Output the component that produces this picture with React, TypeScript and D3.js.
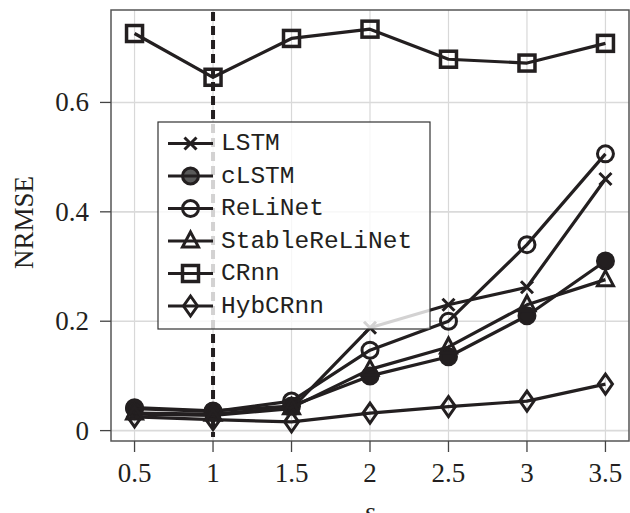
import React from 'react';
import * as d3 from 'd3';

// values
const sValues = [0.5, 1, 1.5, 2, 2.5, 3, 3.5];
const lstm = [0.03, 0.028, 0.04, 0.188, 0.23, 0.262, 0.46];
const clstm = [0.042, 0.036, 0.045, 0.1, 0.135, 0.21, 0.31];
const relinet = [0.04, 0.035, 0.054, 0.147, 0.2, 0.34, 0.506];
const stableRelinet = [0.032, 0.03, 0.042, 0.112, 0.153, 0.23, 0.276];
const crnn = [0.726, 0.646, 0.717, 0.734, 0.679, 0.672, 0.708];
const hybCrnn = [0.025, 0.02, 0.016, 0.032, 0.044, 0.054, 0.085];

const xTicks = [0.5, 1, 1.5, 2, 2.5, 3, 3.5];
const yTicks = [0, 0.2, 0.4, 0.6];
const markerLine = 1; // dashed vertical marker at s = 1

type Marker = 'cross' | 'filledCircle' | 'circle' | 'triangle' | 'square' | 'diamond';

const series: { name: string; values: number[]; marker: Marker }[] = [
  { name: 'LSTM', values: lstm, marker: 'cross' },
  { name: 'cLSTM', values: clstm, marker: 'filledCircle' },
  { name: 'ReLiNet', values: relinet, marker: 'circle' },
  { name: 'StableReLiNet', values: stableRelinet, marker: 'triangle' },
  { name: 'CRnn', values: crnn, marker: 'square' },
  { name: 'HybCRnn', values: hybCrnn, marker: 'diamond' },
];

const W = 630;
const H = 513;
const left = 111;
const right = 629;
const top = 10;
const bottom = 441;
const ink = '#231f20';

const x = d3.scaleLinear().domain([0.35, 3.65]).range([left, right]);
const y = d3.scaleLinear().domain([-0.019, 0.769]).range([bottom, top]);

const MarkerShape: React.FC<{ type: Marker; cx: number; cy: number; legend?: boolean }> = ({ type, cx, cy, legend }) => {
  const sw = 3;
  switch (type) {
    case 'cross':
      return (
        <path
          d={`M${cx - 6},${cy - 6}L${cx + 6},${cy + 6}M${cx - 6},${cy + 6}L${cx + 6},${cy - 6}`}
          stroke={ink}
          strokeWidth={sw}
          fill="none"
        />
      );
    case 'filledCircle':
      return <circle cx={cx} cy={cy} r={8} fill={legend ? '#5a5a5a' : ink} stroke={ink} strokeWidth={sw} />;
    case 'circle':
      return <circle cx={cx} cy={cy} r={8} fill="none" stroke={ink} strokeWidth={sw} />;
    case 'triangle':
      return (
        <path
          d={`M${cx},${cy - 9}L${cx + 8},${cy + 6}L${cx - 8},${cy + 6}Z`}
          fill="none"
          stroke={ink}
          strokeWidth={sw}
          strokeLinejoin="miter"
        />
      );
    case 'square':
      return <rect x={cx - 8} y={cy - 8} width={16} height={16} fill="none" stroke={ink} strokeWidth={sw + 0.5} />;
    case 'diamond':
      return (
        <path
          d={`M${cx},${cy - 10}L${cx + 7},${cy}L${cx},${cy + 10}L${cx - 7},${cy}Z`}
          fill="none"
          stroke={ink}
          strokeWidth={sw}
        />
      );
  }
};

const App: React.FC = () => {
  const line = d3
    .line<number>()
    .x((_, i) => x(sValues[i]))
    .y((d) => y(d));

  const legendX = 158;
  const legendY = 122;
  const legendW = 272;
  const legendH = 207;
  const rowH = 32.5;

  return (
    <svg width={W} height={H} style={{ position: 'absolute', left: 0, top: 0, background: '#fff' }}>
      {/* grid */}
      {xTicks.map((t) => (
        <line key={'gx' + t} x1={x(t)} x2={x(t)} y1={top} y2={bottom} stroke="#d8d8d8" strokeWidth={1.2} />
      ))}
      {yTicks.map((t) => (
        <line key={'gy' + t} x1={left} x2={right} y1={y(t)} y2={y(t)} stroke="#dadada" strokeWidth={1.6} />
      ))}

      {/* frame and ticks */}
      <rect x={left} y={top} width={right - left} height={bottom - top} fill="none" stroke="#555" strokeWidth={1.5} />
      {xTicks.map((t) => (
        <g key={'tx' + t}>
          <line x1={x(t)} x2={x(t)} y1={bottom} y2={bottom + 11} stroke="#444" strokeWidth={1.3} />
          <text
            x={x(t)}
            y={481.5}
            textAnchor="middle"
            fontFamily="'Liberation Serif', serif"
            fontSize={27}
            fill={ink}
          >
            {t}
          </text>
        </g>
      ))}
      {yTicks.map((t) => (
        <g key={'ty' + t}>
          <line x1={left - 11} x2={left} y1={y(t)} y2={y(t)} stroke="#444" strokeWidth={1.3} />
          <text
            x={89}
            y={y(t) + 9}
            textAnchor="end"
            fontFamily="'Liberation Serif', serif"
            fontSize={27}
            fill={ink}
          >
            {t === 0 ? '0' : t.toFixed(1)}
          </text>
        </g>
      ))}

      {/* axis titles */}
      <text
        transform={`translate(33,${(top + bottom) / 2 - 3}) rotate(-90)`}
        textAnchor="middle"
        fontFamily="'Liberation Serif', serif"
        fontSize={27}
        fill={ink}
      >
        NRMSE
      </text>
      <text
        x={(left + right) / 2 - 0}
        y={521}
        textAnchor="middle"
        fontFamily="'Liberation Serif', serif"
        fontStyle="italic"
        fontSize={28}
        fill={ink}
      >
        s
      </text>

      {/* dashed marker */}
      <line
        x1={x(markerLine)}
        x2={x(markerLine)}
        y1={top + 2}
        y2={bottom - 4}
        stroke={ink}
        strokeWidth={4}
        strokeDasharray="9,5"
      />

      {/* series */}
      {series.map((s) => (
        <g key={s.name}>
          <path d={line(s.values) || ''} fill="none" stroke={ink} strokeWidth={3.2} strokeLinejoin="round" />
          {s.values.map((v, i) => (
            <MarkerShape key={i} type={s.marker} cx={x(sValues[i])} cy={y(v)} />
          ))}
        </g>
      ))}

      {/* legend */}
      <rect x={legendX} y={legendY} width={legendW} height={legendH} fill="#fff" fillOpacity={0.8} stroke="#333" strokeWidth={1.2} />
      {series.map((s, i) => {
        const cy = legendY + 21.5 + i * rowH;
        return (
          <g key={'lg' + s.name}>
            <MarkerShape type={s.marker} cx={190.5} cy={cy} legend />
            <line x1={168} x2={213} y1={cy} y2={cy} stroke={ink} strokeWidth={3.2} />
            <text
              x={221}
              y={cy}
              dominantBaseline="central"
              fontFamily="'Liberation Mono', monospace"
              fontSize={24.5}
              fill={ink}
            >
              {s.name}
            </text>
          </g>
        );
      })}
    </svg>
  );
};

export default App;
